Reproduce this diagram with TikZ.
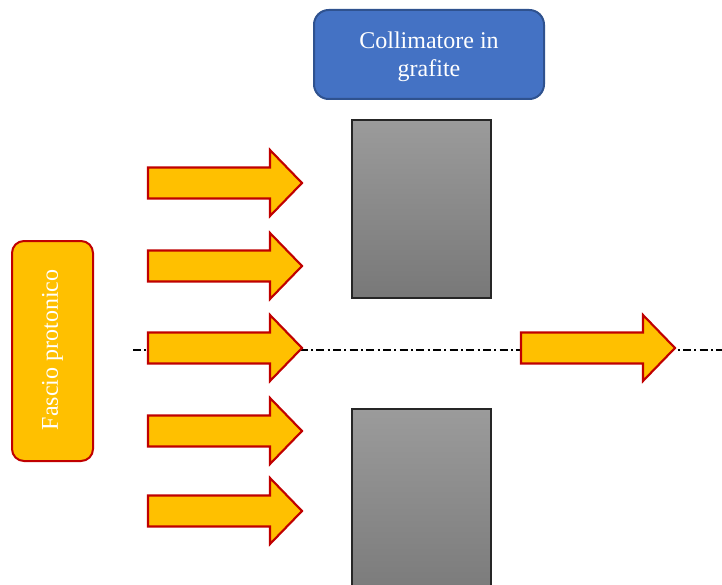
\documentclass[tikz,border=0pt]{standalone}
\usepackage{fontspec}
\setmainfont{Liberation Serif}
\definecolor{blueF}{HTML}{4472C4}
\definecolor{blueB}{HTML}{2F528F}
\definecolor{orangeF}{HTML}{FFC000}
\definecolor{redB}{HTML}{C00000}
\definecolor{grTop}{HTML}{9B9B9B}
\definecolor{grBot}{HTML}{787878}
\tikzset{
  labelbox/.style={rounded corners=11pt, line width=1.5pt, inner sep=0pt},
  labeltext/.style={text=white, align=center, font=\fontsize{18}{21}\selectfont, inner sep=0pt},
  bluebox/.style={labelbox, fill=blueF, draw=blueB},
  beambox/.style={labelbox, fill=orangeF, draw=redB, rounded corners=9pt},
  beam/.style={fill=orangeF, draw=redB, line width=1.6pt, line join=miter},
  graphite/.style={draw=black!85, line width=1.1pt, top color=grTop, bottom color=grBot, inner sep=0pt},
  axis/.style={draw=black, line width=0.8pt, dash pattern=on 6pt off 2.5pt on 1.5pt off 2.5pt},
  fatarrow/.pic={\path[beam] (0,-15.5) -- (122,-15.5) -- (122,-33) -- (154,0) -- (122,33) -- (122,15.5) -- (0,15.5) -- cycle;}
}
\begin{document}
\begin{tikzpicture}[x=0.75pt,y=-0.75pt]
\clip (0,0) rectangle (722,585);
\fill[white] (0,0) rectangle (722,585);
% axis line
\coordinate (axL) at (133,350);
\coordinate (axR) at (722,350);
\draw[axis] (axL) -- (axR);
% title box
\node[bluebox, minimum width=172.5pt, minimum height=66.75pt] (coll) at (429,54.5) {};
\node[labeltext] (colltxt) at (429,57) {Collimatore in\\grafite};
% beam box
\node[beambox, minimum width=60.75pt, minimum height=165pt] (fascio) at (52.5,351) {};
\node[labeltext, rotate=90] (fasciotxt) at (52.5,350) {Fascio protonico};
% graphite blocks
\node[graphite, minimum width=104.25pt, minimum height=133.5pt] (gtop) at (421.5,209) {};
\node[graphite, minimum width=104.25pt, minimum height=150pt] (gbot) at (421.5,509) {};
% arrows
\pic (a1) at (148,183) {fatarrow};
\pic (a2) at (148,266) {fatarrow};
\pic (a3) at (148,348) {fatarrow};
\pic (a4) at (148,431) {fatarrow};
\pic (a5) at (148,511) {fatarrow};
\pic (aout) at (521,348) {fatarrow};
\end{tikzpicture}
\end{document}
